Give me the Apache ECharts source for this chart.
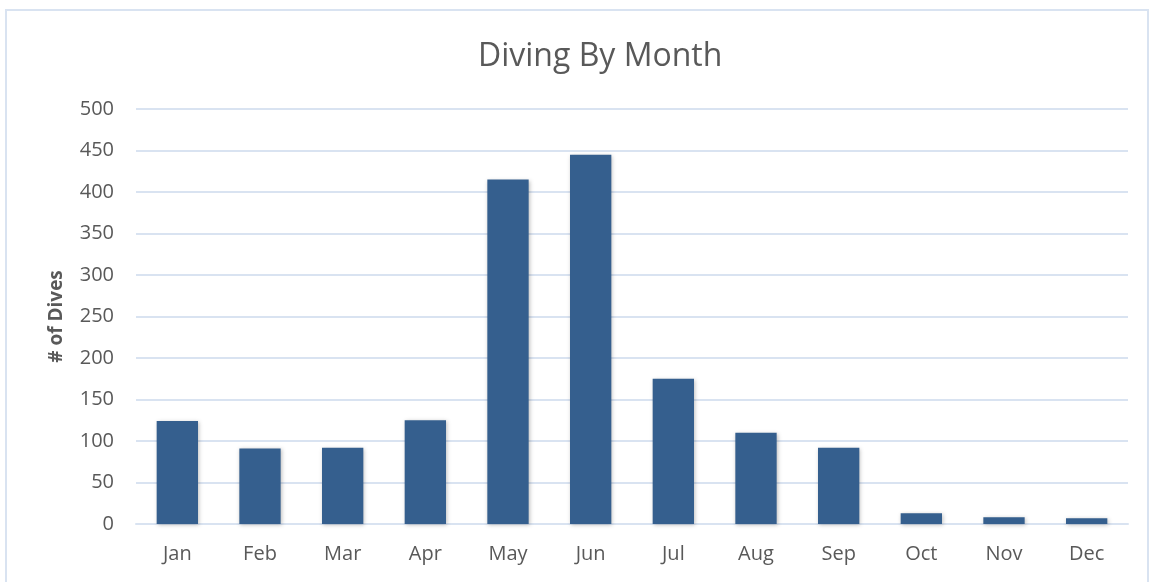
<!DOCTYPE html>
<html>
	<head>
		<meta charset="UTF-8" />
		<title>Diving By Month</title>
		<script src="https://cdn.jsdelivr.net/npm/echarts@6/dist/echarts.min.js"></script>
		<style>
			html, body { margin: 0; padding: 0; background: #fff; }
			#frame {
				position: absolute; left: 5px; top: 9px; width: 1144px; height: 590px;
				border: 2px solid #d9e3f1; box-sizing: border-box;
			}
			#pic { width: 1151px; height: 582px; }
		</style>
	</head>
	<body>
		<div id="frame"></div>
		<div id="pic"></div>
		<script>
			// data
			var months = ['Jan', 'Feb', 'Mar', 'Apr', 'May', 'Jun', 'Jul', 'Aug', 'Sep', 'Oct', 'Nov', 'Dec'];
			var dives = [124, 91, 92, 125, 415, 445, 175, 110, 92, 13, 8, 7];
			var yTicks = [0, 500, 50]; // min, max, step

			var myChart = echarts.init(document.getElementById('pic'));
			myChart.setOption({
				animation: false,
				title: {
					text: 'Diving By Month',
					left: 473,
					top: 36,
					textStyle: { fontFamily: 'Open Sans', fontSize: 32, fontWeight: 'normal', color: '#595959' }
				},
				grid: { left: 136, right: 23, top: 109, bottom: 58, containLabel: false },
				xAxis: {
					type: 'category',
					data: months,
					axisTick: { show: false },
					axisLine: { lineStyle: { color: '#d9e3f1', width: 2 } },
					axisLabel: { fontFamily: 'Open Sans', fontSize: 20, color: '#595959', margin: 20 }
				},
				yAxis: {
					type: 'value',
					min: yTicks[0],
					max: yTicks[1],
					interval: yTicks[2],
					name: '# of Dives',
					nameLocation: 'middle',
					nameGap: 70,
					nameTextStyle: { fontFamily: 'Open Sans', fontSize: 19, fontWeight: 'bold', color: '#595959' },
					axisLine: { show: false },
					axisTick: { show: false },
					axisLabel: { fontFamily: 'Open Sans', fontSize: 20, color: '#595959', margin: 22 },
					splitLine: { lineStyle: { color: '#d9e3f1', width: 2 } }
				},
				series: [{
					type: 'bar',
					data: dives,
					barWidth: '50%',
					itemStyle: {
						color: '#355f8e',
						shadowColor: 'rgba(0,0,0,0.25)',
						shadowBlur: 4,
						shadowOffsetX: 1,
						shadowOffsetY: 1
					}
				}]
			});
		</script>
	</body>
</html>
